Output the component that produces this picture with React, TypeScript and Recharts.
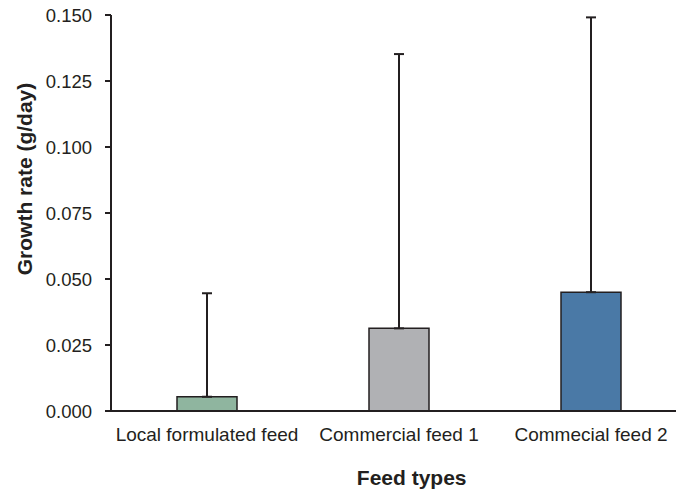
import React from 'react';
import { BarChart, Bar, XAxis, YAxis, ErrorBar, Cell } from 'recharts';

const categories = ['Local formulated feed', 'Commercial feed 1', 'Commecial feed 2'];
const growthRates = [0.0054, 0.0313, 0.045];
const upperErrors = [0.0392, 0.1039, 0.1041];
const barColors = ['#8fb59f', '#b0b1b4', '#4a79a6'];
const yTicks = [0, 0.025, 0.05, 0.075, 0.1, 0.125, 0.15];

const data = categories.map((name, i) => ({
  name,
  value: growthRates[i],
  err: [0, upperErrors[i]],
}));

const FONT = '"Liberation Sans", Arial, sans-serif';
const INK = '#231f20';

const YLabel = (props: any) => {
  const vb = props.viewBox || {};
  const x = (vb.x || 0) + 24;
  const y = (vb.y || 0) + (vb.height || 0) / 2 - 34;
  return (
    <text
      x={x}
      y={y}
      transform={`rotate(-90 ${x} ${y})`}
      textAnchor="middle"
      dominantBaseline="central"
      fontFamily={FONT}
      fontSize={21}
      fontWeight="bold"
      fill={INK}
    >
      Growth rate (g/day)
    </text>
  );
};

const XLabel = (props: any) => {
  const vb = props.viewBox || {};
  const x = (vb.x || 0) + (vb.width || 0) / 2 + 12.7;
  const y = (vb.y || 0) + 66;
  return (
    <text
      x={x}
      y={y}
      textAnchor="middle"
      dominantBaseline="central"
      fontFamily={FONT}
      fontSize={21}
      fontWeight="bold"
      fill={INK}
    >
      Feed types
    </text>
  );
};

export default function App() {
  return (
    <div style={{ position: 'absolute', left: 0, top: 0, width: 676, height: 490, overflow: 'hidden', background: '#fff' }}>
      <BarChart
        width={687}
        height={490}
        data={data}
        margin={{ top: 15, right: 0, left: 0, bottom: 0 }}
        barCategoryGap={0}
      >
        <XAxis
          dataKey="name"
          height={79}
          tickLine={false}
          tickSize={0}
          tickMargin={17}
          axisLine={{ stroke: INK, strokeWidth: 2 }}
          tick={{ fontFamily: FONT, fontSize: 19, fill: INK }}
          interval={0}
          label={<XLabel />}
        />
        <YAxis
          width={111}
          domain={[0, 0.15]}
          ticks={yTicks}
          tickFormatter={(v: number) => v.toFixed(3)}
          tickSize={6}
          tickMargin={13}
          tickLine={{ stroke: INK, strokeWidth: 2 }}
          axisLine={{ stroke: INK, strokeWidth: 2 }}
          tick={{ fontFamily: FONT, fontSize: 18.5, fill: INK }}
          label={<YLabel />}
        />
        <Bar dataKey="value" barSize={60} stroke={INK} strokeWidth={1.5} isAnimationActive={false}>
          {data.map((d, i) => (
            <Cell key={d.name} fill={barColors[i]} />
          ))}
          <ErrorBar dataKey="err" width={5} stroke={INK} strokeWidth={2} direction="y" />
        </Bar>
      </BarChart>
    </div>
  );
}
